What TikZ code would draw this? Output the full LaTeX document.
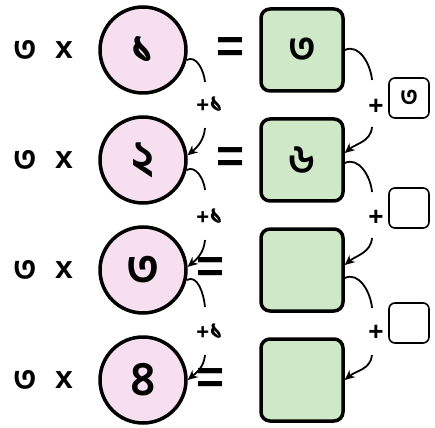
\documentclass[tikz,border=0pt]{standalone}
\usepackage{fontspec}
\setmainfont{Liberation Sans}
\newfontfamily\bn[Script=Bengali]{Hind Siliguri}
\usetikzlibrary{arrows.meta}
\definecolor{pinkf}{RGB}{246,224,240}
\definecolor{greenf}{RGB}{207,232,199}
\begin{document}
\begin{tikzpicture}[x=1pt,y=1pt,
  circ/.style={circle,draw,line width=3.5pt,fill=pinkf,minimum size=86pt,inner sep=0pt,
    font=\bn\bfseries\fontsize{48}{48}\selectfont},
  gbox/.style={draw,line width=3.5pt,rounded corners=9pt,fill=greenf,minimum size=82pt,inner sep=0pt,
    font=\bn\bfseries\fontsize{40}{40}\selectfont},
  sbox/.style={draw,line width=1.6pt,rounded corners=6pt,fill=white,minimum size=40pt,inner sep=0pt,
    font=\bn\bfseries\fontsize{26}{26}\selectfont},
  lefttxt/.style={inner sep=0pt,font=\bn\bfseries\fontsize{34}{34}\selectfont},
  xtxt/.style={inner sep=0pt,font=\bfseries\fontsize{32}{32}\selectfont},
  eqtxt/.style={inner sep=0pt,font=\bfseries\fontsize{48}{48}\selectfont},
  plustxt/.style={inner sep=0pt,font=\bfseries\fontsize{22}{22}\selectfont},
  rplus/.style={inner sep=0pt,font=\bfseries\fontsize{26}{26}\selectfont},
  conn/.style={line width=1.8pt},
  arr/.style={conn,-{Stealth[length=10pt,width=9pt]}},
]
\useasboundingbox (0,0) rectangle (435,-427);
% left texts
\foreach \i/\y in {1/-50,2/-160,3/-270,4/-380}{
  \node[lefttxt] (t\i) at (25,\y) {৩};
  \node[xtxt] (x\i) at (64,\y) {x};
}
% circles
\node[circ] (c1) at (143,-50) {১};
\node[circ] (c2) at (143,-160) {২};
\node[circ] (c3) at (143,-270) {৩};
\node[circ] (c4) at (143,-380) {৪};
% boxes
\node[gbox] (b1) at (302,-50) {৩};
\node[gbox] (b2) at (302,-160) {৬};
\node[gbox] (b3) at (302,-270) {};
\node[gbox] (b4) at (302,-380) {};
% equals
\node[eqtxt] (e1) at (231,-50) {=};
\node[eqtxt] (e2) at (231,-160) {=};
\node[eqtxt] (e3) at (211,-270) {=};
\node[eqtxt] (e4) at (211,-381) {=};
% left labels
\node[plustxt] (l1) at (210,-105) {+{\bn\fontsize{28}{28}\selectfont ১}};
\node[plustxt] (l2) at (210,-217) {+{\bn\fontsize{28}{28}\selectfont ১}};
\node[plustxt] (l3) at (210,-332) {+{\bn\fontsize{28}{28}\selectfont ১}};
% right plus and small boxes
\node[rplus] (p1) at (376,-107) {+};
\node[rplus] (p2) at (376,-218) {+};
\node[rplus] (p3) at (376,-333) {+};
\node[sbox] (s1) at (409,-98) {৩};
\node[sbox] (s2) at (409,-208) {};
\node[sbox] (s3) at (409,-323) {};
% free ends
\coordinate (la1) at (205,-82);  \coordinate (lb1) at (205,-128);
\coordinate (la2) at (205,-190); \coordinate (lb2) at (205,-240);
\coordinate (la3) at (205,-307); \coordinate (lb3) at (205,-355);
\coordinate (ra1) at (372,-80);  \coordinate (rb1) at (372,-127);
\coordinate (ra2) at (372,-192); \coordinate (rb2) at (372,-238);
\coordinate (ra3) at (372,-308); \coordinate (rb3) at (372,-355);
% left connectors
\draw[conn] (c1.-13) to[out=30,in=95] (la1);
\draw[arr] (lb1) to[out=-95,in=40] (c2.6);
\draw[conn] (c2.-13) to[out=30,in=95] (la2);
\draw[arr] (lb2) to[out=-95,in=40] (c3.4);
\draw[conn] (c3.-13) to[out=30,in=95] (la3);
\draw[arr] (lb3) to[out=-95,in=40] (c4.0);
% right connectors
\draw[conn] (b1.east) to[out=25,in=95] (ra1);
\draw[arr] (rb1) to[out=-95,in=40] ([yshift=7pt]b2.east);
\draw[conn] ([yshift=-3pt]b2.east) to[out=25,in=95] (ra2);
\draw[arr] (rb2) to[out=-95,in=40] ([yshift=5pt]b3.east);
\draw[conn] ([yshift=-8pt]b3.east) to[out=25,in=95] (ra3);
\draw[arr] (rb3) to[out=-95,in=40] (b4.east);
\end{tikzpicture}
\end{document}
